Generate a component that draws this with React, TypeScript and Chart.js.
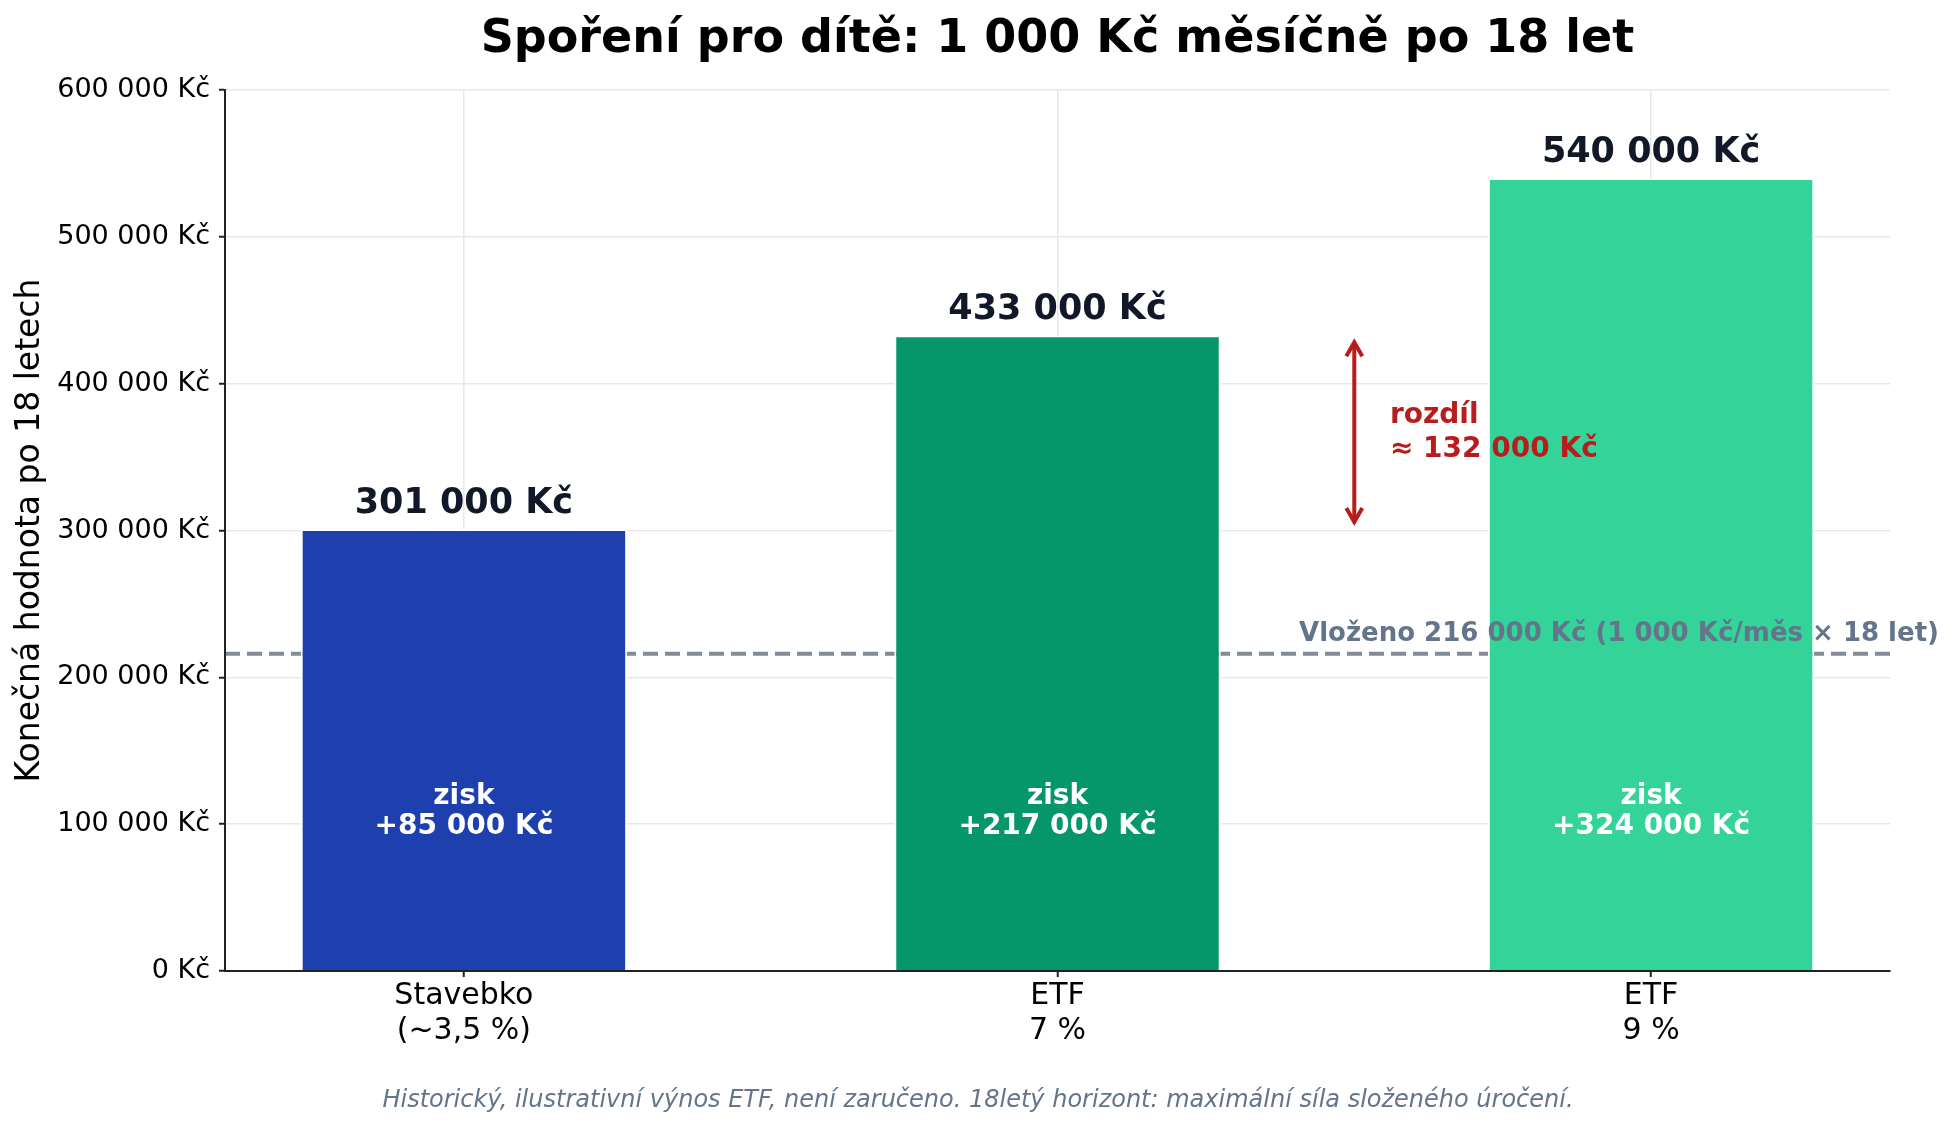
import React, { useEffect, useRef } from "react";
import { Chart, registerables } from "chart.js";

Chart.register(...registerables);

const FONT = "'DejaVu Sans', 'Liberation Sans', sans-serif";

const titleText = "Spoření pro dítě: 1 000 Kč měsíčně po 18 let";
const yAxisTitle = "Konečná hodnota po 18 letech";
const footnote =
  "Historický, ilustrativní výnos ETF, není zaručeno. 18letý horizont: maximální síla složeného úročení.";
const depositLabel = "Vloženo 216 000 Kč (1 000 Kč/měs × 18 let)";

const categories: string[][] = [
  ["Stavebko", "(~3,5 %)"],
  ["ETF", "7 %"],
  ["ETF", "9 %"],
];
const finalValues = [301000, 433000, 540000];
const gains = [85000, 217000, 324000];
const barColors = ["#1e40af", "#059669", "#34d399"];
const deposited = 216000;
const differenceText = ["rozdíl", "≈ 132 000 Kč"];
const gainLabelLevel = 110000;
const yMin = 0;
const yMax = 600000;
const yStep = 100000;
const xMin = -0.4025;
const xMax = 2.4025;

const fmt = (v: number) =>
  String(Math.round(v)).replace(/\B(?=(\d{3})+(?!\d))/g, " ") + " Kč";

const annotationPlugin = {
  id: "customAnnotations",
  beforeDatasetsDraw(chart: any) {
    const { ctx, chartArea, scales } = chart;
    const y = scales.y;
    const yy = y.getPixelForValue(deposited);
    ctx.save();
    ctx.strokeStyle = "#818a97";
    ctx.lineWidth = 4;
    ctx.setLineDash([15, 7]);
    ctx.beginPath();
    ctx.moveTo(chartArea.left, yy);
    ctx.lineTo(chartArea.right, yy);
    ctx.stroke();
    ctx.restore();
  },
  afterDatasetsDraw(chart: any) {
    const { ctx, scales } = chart;
    const x = scales.x;
    const y = scales.y;
    ctx.save();
    ctx.textAlign = "center";
    ctx.textBaseline = "alphabetic";
    finalValues.forEach((v, i) => {
      const cx = x.getPixelForValue(i);
      const top = y.getPixelForValue(v);
      ctx.font = `bold 35px ${FONT}`;
      ctx.fillStyle = "#111827";
      ctx.fillText(fmt(v), cx, top - 16);
      const g = y.getPixelForValue(gainLabelLevel);
      ctx.font = `bold 28px ${FONT}`;
      ctx.fillStyle = "#ffffff";
      ctx.fillText("zisk", cx, g - 5);
      ctx.fillText("+" + fmt(gains[i]), cx, g + 25);
    });

    // deposit label
    ctx.font = `bold 26px ${FONT}`;
    ctx.fillStyle = "#64748b";
    ctx.textAlign = "right";
    ctx.fillText(depositLabel, x.getPixelForValue(2.485), y.getPixelForValue(deposited) - 13);

    // difference arrow
    const ax = x.getPixelForValue(1.5);
    const yBottom = y.getPixelForValue(finalValues[0]) - 7;
    const yTop = y.getPixelForValue(finalValues[1]) + 7;
    ctx.strokeStyle = "#b91c1c";
    ctx.lineWidth = 4;
    ctx.lineJoin = "miter";
    ctx.beginPath();
    ctx.moveTo(ax, yTop + 2);
    ctx.lineTo(ax, yBottom - 2);
    ctx.stroke();
    ctx.beginPath();
    ctx.moveTo(ax - 8, yTop + 14);
    ctx.lineTo(ax, yTop);
    ctx.lineTo(ax + 8, yTop + 14);
    ctx.stroke();
    ctx.beginPath();
    ctx.moveTo(ax - 8, yBottom - 14);
    ctx.lineTo(ax, yBottom);
    ctx.lineTo(ax + 8, yBottom - 14);
    ctx.stroke();

    const ym = y.getPixelForValue((finalValues[0] + finalValues[1]) / 2);
    ctx.font = `bold 28px ${FONT}`;
    ctx.fillStyle = "#b91c1c";
    ctx.textAlign = "left";
    const tx = x.getPixelForValue(1.56);
    ctx.fillText(differenceText[0], tx, ym - 9.5);
    ctx.fillText(differenceText[1], tx, ym + 24.5);
    ctx.restore();
  },
};

export default function App() {
  const canvasRef = useRef<HTMLCanvasElement | null>(null);

  useEffect(() => {
    if (!canvasRef.current) return;
    Chart.defaults.font.family = FONT;
    const chart = new Chart(canvasRef.current, {
      type: "bar",
      data: {
        datasets: [
          {
            data: finalValues.map((v, i) => ({ x: i, y: v })),
            backgroundColor: barColors,
            borderColor: "#ffffff",
            borderWidth: 2,
            barPercentage: 0.55,
            categoryPercentage: 1,
          } as any,
        ],
      },
      options: {
        animation: false,
        responsive: true,
        maintainAspectRatio: false,
        devicePixelRatio: 1,
        layout: { padding: 0 },
        plugins: {
          legend: { display: false },
          tooltip: { enabled: false },
          title: {
            display: true,
            text: titleText,
            fullSize: false,
            color: "#000000",
            font: { size: 46, weight: "bold", family: FONT },
            padding: { top: 12.5, bottom: 22.3 },
          },
          subtitle: {
            display: true,
            position: "bottom",
            text: footnote,
            color: "#64748b",
            font: { size: 24, style: "italic", family: FONT },
            padding: { top: 10.5, bottom: 13.5 },
          },
        },
        scales: {
          x: {
            type: "linear",
            min: xMin,
            max: xMax,
            offset: false,
            afterBuildTicks: (s: any) => {
              s.ticks = categories.map((_, i) => ({ value: i }));
            },
            afterFit: (s: any) => {
              s.height = 105.2;
            },
            grid: {
              offset: false,
              color: "#e8e8e8",
              lineWidth: 1.5,
              tickColor: "#222222",
              tickWidth: 2,
              tickLength: 6,
            },
            border: { display: true, color: "#222222", width: 2, z: 1 },
            ticks: {
              color: "#000000",
              padding: 2,
              maxRotation: 0,
              autoSkip: false,
              includeBounds: false,
              font: { size: 30, lineHeight: 35 / 30, family: FONT },
              callback: (v: any) => categories[Math.round(Number(v))] ?? "",
            },
          },
          y: {
            type: "linear",
            position: "left",
            min: yMin,
            max: yMax,
            afterFit: (s: any) => {
              s.width = 225;
            },
            grid: {
              color: "#e8e8e8",
              lineWidth: 1.5,
              tickColor: "#222222",
              tickWidth: 2,
              tickLength: 6,
            },
            border: { display: true, color: "#222222", width: 2, z: 1 },
            title: {
              display: true,
              text: yAxisTitle,
              color: "#000000",
              font: { size: 33, family: FONT },
              padding: { top: 11, bottom: 0 },
            },
            ticks: {
              stepSize: yStep,
              color: "#000000",
              padding: 9,
              font: { size: 27, family: FONT },
              callback: (v: any) => fmt(Number(v)),
            },
          },
          yRight: {
            type: "linear",
            position: "right",
            display: true,
            min: yMin,
            max: yMax,
            afterFit: (s: any) => {
              s.width = 66;
            },
            grid: { display: false, drawTicks: false },
            border: { display: false },
            ticks: { display: false },
          },
        },
      } as any,
      plugins: [annotationPlugin],
    });
    return () => chart.destroy();
  }, []);

  return (
    <div style={{ position: "fixed", left: 0, top: 0, width: 1956, height: 1129, background: "#ffffff" }}>
      <canvas ref={canvasRef} />
    </div>
  );
}
